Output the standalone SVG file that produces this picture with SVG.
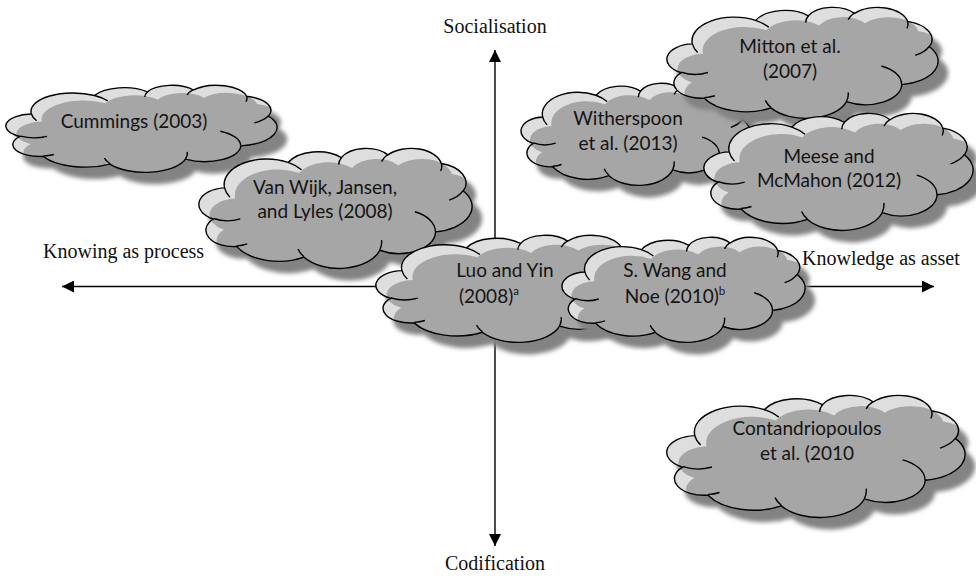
<svg xmlns="http://www.w3.org/2000/svg" xmlns:xlink="http://www.w3.org/1999/xlink" width="976" height="577" viewBox="0 0 976 577">
  <style>
    .axis { stroke: #000; stroke-width: 1.4; fill: none; }
    .axlbl { font-family: "Liberation Serif", "Times New Roman", serif; font-size: 20px; fill: #111; }
    .lbl { font-family: Lato, "Liberation Sans", sans-serif; font-size: 19px; fill: #141414; text-anchor: middle; }
    .lbl.left { text-anchor: start; }
    .sup { font-size: 11.5px; }
    .shade { fill: #838383; }
    .rim { fill: #dedede; }
    .body { fill: #a6a6a6; }
    .edge { fill: none; stroke: #000; stroke-width: 1.4; }
  </style>
  <defs>
    <!-- cloud outline drawn in a 43200 x 43200 box, scaled per node -->
    <path id="cloud" vector-effect="non-scaling-stroke" d="M3900 14370A6753 9190 0 0 1 14005 5201A5333 7267 0 0 1 22456 3430A4365 5945 0 0 1 29834 2479A4857 6595 0 0 1 38319 5573A5333 7273 0 0 1 41819 15459A6775 9220 0 0 1 37405 30202A5785 7867 0 0 1 28556 36812A6752 9215 0 0 1 16481 39265A7720 10543 0 0 1 5802 35473A4360 5918 0 0 1 2113 25549A4345 5945 0 0 1 3900 14370Z"/>
    <!-- inner strokes where the bumps meet -->
    <path id="wisps" fill="none" vector-effect="non-scaling-stroke" d="M6395 25499A4345 5945 0 0 1 2159 25380M7491 34528A4360 5918 0 0 1 5819 35281M16478 39090A6752 9215 0 0 1 15569 36351M28824 33188A6752 9215 0 0 1 28560 36662M34129 22954A5785 7867 0 0 1 37381 30090M41798 15354A5333 7273 0 0 1 39564 18785M38324 5426A4857 6595 0 0 1 38236 8302M28834 4896A4857 6595 0 0 1 29821 2339M22041 5985A4365 5945 0 0 1 22500 3332M14000 5192A6753 9190 0 0 1 16119 7850M4744 17728A6753 9190 0 0 1 3900 14373"/>
    <clipPath id="clipCloud"><use href="#cloud"/></clipPath>
    <filter id="soft" x="-10%" y="-10%" width="120%" height="130%">
      <feGaussianBlur stdDeviation="2"/>
    </filter>
    <marker id="head" viewBox="0 0 12 12" refX="12" refY="6" markerWidth="12" markerHeight="12" markerUnits="userSpaceOnUse" orient="auto-start-reverse">
      <path d="M0 0L12 6L0 12Z" fill="#000"/>
    </marker>
  </defs>

  <!-- axes -->
  <g id="connectors">
    <line class="axis" x1="495" y1="50" x2="495" y2="546" marker-start="url(#head)" marker-end="url(#head)"/>
    <line class="axis" x1="62" y1="286.5" x2="934" y2="286.5" marker-start="url(#head)" marker-end="url(#head)"/>
  </g>

  <g id="axis-labels">
    <text class="axlbl" x="495" y="33" text-anchor="middle">Socialisation</text>
    <text class="axlbl" x="495" y="570" text-anchor="middle">Codification</text>
    <text class="axlbl" x="43" y="258">Knowing as process</text>
    <text class="axlbl" x="802" y="265">Knowledge as asset</text>
  </g>

  <!-- Cummings -->
  <g id="cummings">
    <g filter="url(#soft)"><use href="#cloud" class="shade" transform="translate(17,97) scale(0.00625,0.0020139)"/></g>
    <g transform="translate(7,85) scale(0.00625,0.0020139)">
      <use href="#cloud" class="rim"/>
      <g clip-path="url(#clipCloud)"><use href="#cloud" class="body" transform="translate(1700,3800)"/></g>
      <use href="#cloud" class="edge"/>
      <use href="#wisps" class="edge"/>
    </g>
    <text class="lbl" x="134" y="128">Cummings (2003)</text>
  </g>

  <!-- Van Wijk -->
  <g id="vanwijk">
    <g filter="url(#soft)"><use href="#cloud" class="shade" transform="translate(210,160) scale(0.0062963,0.0027778)"/></g>
    <g transform="translate(200,148) scale(0.0062963,0.0027778)">
      <use href="#cloud" class="rim"/>
      <g clip-path="url(#clipCloud)"><use href="#cloud" class="body" transform="translate(1700,3800)"/></g>
      <use href="#cloud" class="edge"/>
      <use href="#wisps" class="edge"/>
    </g>
    <text class="lbl" x="325" y="194">Van Wijk, Jansen,</text>
    <text class="lbl" x="325" y="218">and Lyles (2008)</text>
  </g>

  <!-- Luo and Yin -->
  <g id="luo">
    <g filter="url(#soft)"><use href="#cloud" class="shade" transform="translate(387,247) scale(0.0063889,0.0024769)"/></g>
    <g transform="translate(377,235) scale(0.0063889,0.0024769)">
      <use href="#cloud" class="rim"/>
      <g clip-path="url(#clipCloud)"><use href="#cloud" class="body" transform="translate(1700,3800)"/></g>
      <use href="#cloud" class="edge"/>
      <use href="#wisps" class="edge"/>
    </g>
    <text class="lbl" x="505" y="277">Luo and Yin</text>
    <text class="lbl left" x="459" y="303">(2008)<tspan class="sup" dy="-8">a</tspan></text>
  </g>

  <!-- S. Wang and Noe -->
  <g id="wang">
    <g filter="url(#soft)"><use href="#cloud" class="shade" transform="translate(573,249) scale(0.0056019,0.0024306)"/></g>
    <g transform="translate(563,237) scale(0.0056019,0.0024306)">
      <use href="#cloud" class="rim"/>
      <g clip-path="url(#clipCloud)"><use href="#cloud" class="body" transform="translate(1700,3800)"/></g>
      <use href="#cloud" class="edge"/>
      <use href="#wisps" class="edge"/>
    </g>
    <text class="lbl" x="675" y="277">S. Wang and</text>
    <text class="lbl" x="675" y="303">Noe (2010)<tspan class="sup" dy="-8">b</tspan></text>
  </g>

  <!-- Witherspoon -->
  <g id="witherspoon">
    <g filter="url(#soft)"><use href="#cloud" class="shade" transform="translate(532,95) scale(0.0052778,0.0023611)"/></g>
    <g transform="translate(522,83) scale(0.0052778,0.0023611)">
      <use href="#cloud" class="rim"/>
      <g clip-path="url(#clipCloud)"><use href="#cloud" class="body" transform="translate(1700,3800)"/></g>
      <use href="#cloud" class="edge"/>
      <use href="#wisps" class="edge"/>
    </g>
    <text class="lbl" x="628" y="125">Witherspoon</text>
    <text class="lbl" x="628" y="150">et al. (2013)</text>
  </g>

  <!-- Mitton -->
  <g id="mitton">
    <g filter="url(#soft)"><use href="#cloud" class="shade" transform="translate(678,19) scale(0.00625,0.0025694)"/></g>
    <g transform="translate(668,7) scale(0.00625,0.0025694)">
      <use href="#cloud" class="rim"/>
      <g clip-path="url(#clipCloud)"><use href="#cloud" class="body" transform="translate(1700,3800)"/></g>
      <use href="#cloud" class="edge"/>
      <use href="#wisps" class="edge"/>
    </g>
    <text class="lbl" x="790" y="53">Mitton et al.</text>
    <text class="lbl" x="790" y="78">(2007)</text>
  </g>

  <!-- Meese and McMahon -->
  <g id="meese">
    <g filter="url(#soft)"><use href="#cloud" class="shade" transform="translate(715,125) scale(0.0062037,0.0027083)"/></g>
    <g transform="translate(705,113) scale(0.0062037,0.0027083)">
      <use href="#cloud" class="rim"/>
      <g clip-path="url(#clipCloud)"><use href="#cloud" class="body" transform="translate(1700,3800)"/></g>
      <use href="#cloud" class="edge"/>
      <use href="#wisps" class="edge"/>
    </g>
    <text class="lbl" x="829" y="163">Meese and</text>
    <text class="lbl" x="829" y="187">McMahon (2012)</text>
  </g>

  <!-- Contandriopoulos -->
  <g id="contandriopoulos">
    <g filter="url(#soft)"><use href="#cloud" class="shade" transform="translate(678,407) scale(0.006875,0.0028241)"/></g>
    <g transform="translate(668,395) scale(0.006875,0.0028241)">
      <use href="#cloud" class="rim"/>
      <g clip-path="url(#clipCloud)"><use href="#cloud" class="body" transform="translate(1700,3800)"/></g>
      <use href="#cloud" class="edge"/>
      <use href="#wisps" class="edge"/>
    </g>
    <text class="lbl" x="807" y="435">Contandriopoulos</text>
    <text class="lbl" x="807" y="460">et al. (2010</text>
  </g>
</svg>
